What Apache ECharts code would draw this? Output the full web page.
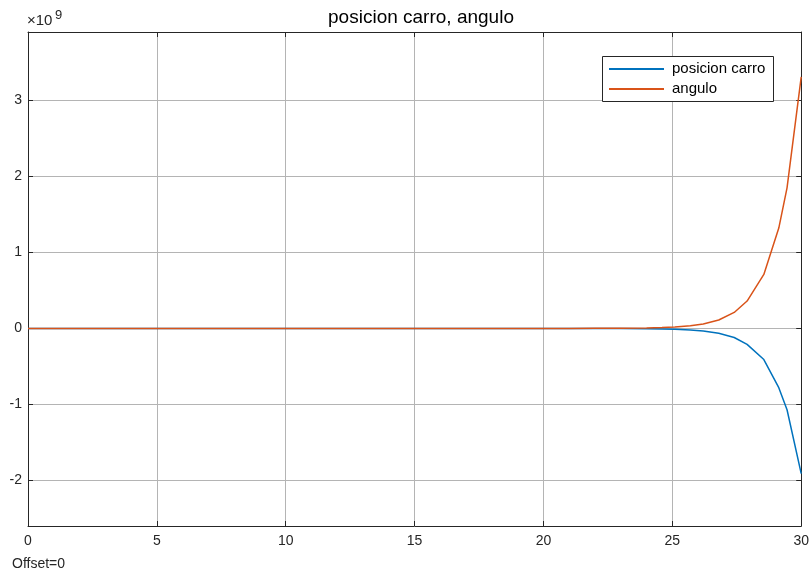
<!DOCTYPE html>
<html>
<head>
<meta charset="utf-8">
<title>posicion carro, angulo</title>
<script src="https://cdn.jsdelivr.net/npm/echarts@6/dist/echarts.min.js"></script>
<style>
  html, body { margin: 0; padding: 0; background: #ffffff; }
  #chart { width: 812px; height: 574px; }
</style>
</head>
<body>
<div id="chart"></div>
<script>
// Simulation time (s)
var tiempo = [0, 5, 10, 15, 20, 21, 22, 23, 24, 24.6, 25.1, 25.7, 26.2, 26.8, 27.4, 27.9, 28.55, 29.13, 29.45, 30];
// Cart position (units of 1e9)
var posicionCarro = [0, 0, 0, 0, 0, -0.0001, -0.0004, -0.0012, -0.0033, -0.0064, -0.011, -0.02, -0.034, -0.064, -0.12, -0.21, -0.41, -0.78, -1.07, -1.91];
// Pendulum angle (units of 1e9)
var angulo = [0, 0, 0, 0, 0.0001, 0.0002, 0.0007, 0.002, 0.0057, 0.011, 0.018, 0.035, 0.059, 0.11, 0.21, 0.36, 0.71, 1.32, 1.85, 3.31];

var xTicks = [0, 5, 10, 15, 20, 25, 30];
var yTicks = [-2, -1, 0, 1, 2, 3];
var seriesNames = ['posicion carro', 'angulo'];

function pares(xs, ys) {
  return xs.map(function (x, i) { return [x, ys[i]]; });
}

var FONT = '"Liberation Sans", Arial, Helvetica, sans-serif';
var INK = '#262626';
var GRID = '#b4b4b4';

var chart = echarts.init(document.getElementById('chart'), null, { renderer: 'canvas' });

var option = {
  animation: false,
  backgroundColor: '#ffffff',
  title: {
    text: 'posicion carro, angulo',
    left: 416,
    top: 3,
    textAlign: 'center',
    textStyle: { fontFamily: FONT, fontSize: 19, fontWeight: 'normal', color: '#000000' }
  },
  grid: { left: 28, right: 8, top: 32, bottom: 48, containLabel: false },
  legend: {
    data: seriesNames,
    orient: 'vertical',
    left: 608,
    top: 61,
    z: 60,
    itemWidth: 55,
    itemHeight: 16,
    itemGap: 4,
    padding: 0,
    // plain line samples, no marker
    itemStyle: { opacity: 0 },
    textStyle: { fontFamily: FONT, fontSize: 15, color: '#000000', lineHeight: 16, padding: [0, 0, 0, 3] },
    selectedMode: false
  },
  xAxis: [{
    type: 'value',
    min: xTicks[0],
    max: xTicks[xTicks.length - 1],
    interval: 5,
    axisLine: { show: true, onZero: false, lineStyle: { color: INK, width: 1 } },
    axisTick: { show: true, inside: true, length: 5, lineStyle: { color: INK } },
    axisLabel: { show: true, margin: 8, fontFamily: FONT, fontSize: 14, color: INK },
    splitLine: { show: true, lineStyle: { color: GRID, width: 1 } }
  }, {
    type: 'value',
    position: 'top',
    min: xTicks[0],
    max: xTicks[xTicks.length - 1],
    interval: 5,
    axisLine: { show: true, onZero: false, lineStyle: { color: INK, width: 1 } },
    axisTick: { show: true, inside: true, length: 5, lineStyle: { color: INK } },
    axisLabel: { show: false },
    splitLine: { show: false }
  }],
  yAxis: [{
    type: 'value',
    min: -2.6,
    max: 3.9,
    axisLine: { show: true, onZero: false, lineStyle: { color: INK, width: 1 } },
    axisTick: { show: true, inside: true, length: 5, customValues: yTicks, lineStyle: { color: INK } },
    axisLabel: { show: true, margin: 6, customValues: yTicks, fontFamily: FONT, fontSize: 14, color: INK },
    splitLine: { show: true, lineStyle: { color: GRID, width: 1 } }
  }, {
    type: 'value',
    position: 'right',
    min: -2.6,
    max: 3.9,
    axisLine: { show: true, onZero: false, lineStyle: { color: INK, width: 1 } },
    axisTick: { show: true, inside: true, length: 5, customValues: yTicks, lineStyle: { color: INK } },
    axisLabel: { show: false },
    splitLine: { show: false }
  }],
  series: [{
    name: seriesNames[0],
    type: 'line',
    symbol: 'none',
    data: pares(tiempo, posicionCarro),
    color: '#0072BD',
    lineStyle: { color: '#0072BD', width: 1.5 },
    z: 3
  }, {
    name: seriesNames[1],
    type: 'line',
    symbol: 'none',
    data: pares(tiempo, angulo),
    color: '#D95319',
    lineStyle: { color: '#D95319', width: 1.5 },
    z: 4
  }],
  graphic: [{
    // legend frame
    type: 'rect',
    z: 10,
    shape: { x: 602.5, y: 56.5, width: 171, height: 45 },
    style: { fill: '#ffffff', stroke: INK, lineWidth: 1 }
  }, {
    // y axis multiplier
    type: 'text',
    left: 27,
    top: 13,
    style: { text: '\u00d710', fontFamily: FONT, fontSize: 15, fill: INK }
  }, {
    type: 'text',
    left: 55,
    top: 9,
    style: { text: '9', fontFamily: FONT, fontSize: 13, fill: INK }
  }, {
    type: 'text',
    left: 12,
    top: 557,
    style: { text: 'Offset=0', fontFamily: FONT, fontSize: 14, fill: INK }
  }]
};

chart.setOption(option);
</script>
</body>
</html>
